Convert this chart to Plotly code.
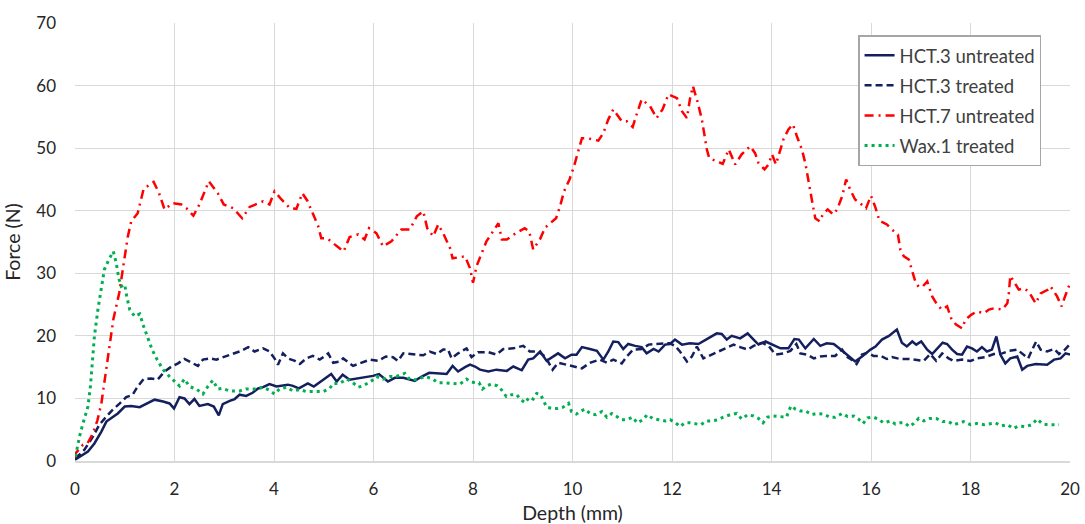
import plotly.graph_objects as go

# ---------------- data ----------------
hct3_untreated_depth = [0.00, 0.16, 0.26, 0.39, 0.53, 0.63, 0.76, 0.86, 1.00, 1.13, 1.30, 1.43, 1.60, 1.77, 1.90, 1.99,
    2.10, 2.20, 2.30, 2.40, 2.50, 2.67, 2.79, 2.89, 2.97, 3.11, 3.21, 3.31, 3.44, 3.57, 3.68, 3.78, 3.91, 4.05,
    4.28, 4.38, 4.50, 4.68, 4.80, 4.99, 5.15, 5.26, 5.38, 5.52, 5.69, 5.86, 5.99, 6.11, 6.29, 6.43, 6.60, 6.83,
    6.97, 7.12, 7.27, 7.47, 7.59, 7.70, 7.84, 7.94, 8.04, 8.14, 8.31, 8.47, 8.68, 8.81, 8.98, 9.11, 9.21, 9.35,
    9.48, 9.71, 9.85, 9.98, 10.08, 10.19, 10.35, 10.49, 10.62, 10.72, 10.82, 10.92, 11.02, 11.12, 11.26, 11.39,
    11.49, 11.63, 11.73, 11.86, 11.96, 12.06, 12.20, 12.36, 12.53, 12.67, 12.77, 12.90, 13.00, 13.10, 13.20,
    13.37, 13.52, 13.64, 13.74, 13.88, 14.01, 14.18, 14.34, 14.46, 14.55, 14.68, 14.85, 14.98, 15.11, 15.25,
    15.38, 15.51, 15.68, 15.82, 15.89, 15.99, 16.09, 16.22, 16.36, 16.52, 16.62, 16.72, 16.83, 16.91, 17.01,
    17.13, 17.23, 17.33, 17.44, 17.53, 17.63, 17.73, 17.83, 17.93, 18.03, 18.13, 18.23, 18.33, 18.43, 18.52,
    18.60, 18.70, 18.80, 18.94, 19.04, 19.14, 19.31, 19.54, 19.68, 19.81, 19.91, 20.00]
hct3_untreated_force = [0.2, 1.0, 1.5, 2.8, 4.7, 6.3, 7.1, 7.6, 8.7, 8.8, 8.6, 9.1, 9.8, 9.5, 9.2, 8.4,
    10.2, 10.0, 9.1, 9.9, 8.8, 9.1, 8.7, 7.3, 9.1, 9.6, 9.9, 10.6, 10.4, 10.9, 11.6, 11.8, 12.3, 11.9,
    12.2, 12.0, 11.6, 12.4, 11.9, 13.0, 13.9, 12.7, 13.8, 13.0, 13.2, 13.5, 13.6, 13.9, 12.7, 13.3, 13.3, 12.8,
    13.5, 14.1, 14.0, 13.9, 15.2, 14.3, 15.0, 15.4, 15.1, 14.6, 14.3, 14.6, 14.4, 15.1, 14.5, 16.2, 16.4, 17.5,
    16.0, 17.2, 16.4, 17.0, 17.0, 18.2, 17.9, 17.6, 16.2, 17.5, 19.1, 19.0, 17.9, 18.7, 18.4, 18.2,
    17.2, 17.9, 17.5, 18.6, 18.7, 19.4, 18.6, 18.8, 18.7, 19.4, 19.8, 20.4, 20.3, 19.4, 20.0,
    19.6, 20.4, 19.4, 18.6, 19.1, 18.6, 18.0, 18.0, 19.5, 19.4, 18.0, 19.5, 18.4, 18.8, 18.7,
    17.9, 17.0, 15.9, 16.7, 17.2, 17.8, 18.3, 19.4, 20.0, 21.0, 18.9, 18.3, 19.1, 18.6, 19.1,
    17.8, 17.1, 18.0, 18.9, 18.7, 17.8, 17.1, 17.0, 18.3, 18.0, 17.5, 18.2, 17.5, 17.8, 19.9,
    17.0, 15.6, 16.4, 16.7, 14.6, 15.2, 15.5, 15.4, 16.2, 16.4, 17.2, 17.0]

hct3_treated_depth = [0.01, 0.19, 0.36, 0.49, 0.63, 0.76, 0.90, 1.03, 1.16, 1.26, 1.38, 1.53, 1.66, 1.80, 1.94,
    2.07, 2.20, 2.34, 2.47, 2.57, 2.71, 2.84, 3.04, 3.21, 3.34, 3.48, 3.61, 3.78, 3.91, 4.01, 4.08, 4.18, 4.28,
    4.42, 4.52, 4.65, 4.78, 4.92, 5.09, 5.19, 5.32, 5.39, 5.59, 5.72, 5.93, 6.09, 6.25, 6.39, 6.49, 6.60, 6.80,
    7.00, 7.13, 7.27, 7.40, 7.50, 7.57, 7.70, 7.87, 7.97, 8.10, 8.31, 8.47, 8.61, 8.81, 9.01, 9.14, 9.31, 9.45,
    9.55, 9.60, 9.71, 9.88, 10.02, 10.19, 10.35, 10.55, 10.69, 10.82, 10.99, 11.09, 11.22, 11.39, 11.53, 11.66,
    11.83, 11.96, 12.06, 12.16, 12.30, 12.40, 12.50, 12.63, 12.80, 12.93, 13.07, 13.24, 13.37, 13.52, 13.64,
    13.81, 13.94, 14.08, 14.24, 14.38, 14.50, 14.58, 14.71, 14.85, 14.98, 15.11, 15.28, 15.42, 15.51, 15.61,
    15.71, 15.82, 15.92, 16.05, 16.19, 16.32, 16.42, 16.59, 16.76, 16.89, 17.06, 17.19, 17.31, 17.43, 17.56,
    17.66, 17.83, 18.00, 18.13, 18.30, 18.47, 18.64, 18.77, 18.94, 19.04, 19.16, 19.24, 19.32, 19.41, 19.54,
    19.68, 19.78, 19.90, 19.99]
hct3_treated_force = [0.4, 1.8, 3.9, 5.8, 7.1, 8.2, 9.2, 10.2, 10.6, 11.9, 13.1, 13.2, 13.0, 14.3, 15.1,
    15.6, 16.3, 15.7, 15.2, 16.2, 16.4, 16.2, 16.8, 17.2, 17.6, 18.2, 17.5, 18.0, 17.5, 16.4, 15.4, 17.2, 16.4,
    16.0, 15.5, 16.4, 16.8, 16.2, 17.2, 15.7, 15.9, 16.4, 15.2, 15.6, 16.2, 16.0, 16.7, 16.6, 16.0, 17.2, 17.0,
    16.9, 17.5, 17.1, 17.8, 17.8, 16.4, 17.2, 18.0, 16.6, 17.4, 17.4, 17.0, 17.9, 18.0, 18.4, 17.5, 17.5, 16.7,
    15.4, 14.6, 15.7, 15.4, 15.2, 14.8, 15.7, 16.2, 15.7, 16.2, 15.6, 16.7, 17.8, 17.9, 18.6, 18.7,
    18.8, 18.8, 18.4, 17.5, 15.9, 16.7, 18.3, 16.4, 17.0, 17.5, 18.0, 18.6, 18.2, 17.8, 18.4,
    18.9, 18.4, 17.0, 17.2, 17.6, 18.7, 17.2, 17.0, 16.4, 16.7, 16.8, 16.8, 17.8, 16.7, 16.2,
    15.5, 17.0, 17.3, 16.8, 16.8, 16.3, 16.6, 16.3, 16.3, 16.2, 16.0, 17.1, 16.0, 17.2, 16.4,
    16.0, 16.2, 16.0, 16.4, 16.6, 17.1, 17.2, 17.6, 17.8, 17.2, 16.4, 17.8, 19.1, 17.8, 17.5,
    17.9, 17.1, 17.8, 18.6]

hct7_untreated_depth = [0.00, 0.02, 0.16, 0.25, 0.36, 0.45, 0.53, 0.61, 0.69, 0.77, 0.89, 0.98, 1.06, 1.13, 1.26,
    1.38, 1.58, 1.69, 1.80, 1.96, 2.14, 2.24, 2.38, 2.50, 2.69, 2.87, 2.99, 3.18, 3.36, 3.51, 3.78, 3.91, 4.01,
    4.15, 4.32, 4.45, 4.57, 4.67, 4.78, 4.89, 4.95, 5.07, 5.19, 5.40, 5.52, 5.69, 5.82, 5.91, 6.06, 6.19, 6.36,
    6.56, 6.73, 6.87, 7.00, 7.08, 7.20, 7.30, 7.40, 7.54, 7.59, 7.84, 7.94, 8.00, 8.07, 8.17, 8.27, 8.42, 8.51,
    8.58, 8.68, 8.86, 9.04, 9.13, 9.21, 9.35, 9.45, 9.67, 9.75, 9.83, 9.94, 10.03, 10.12, 10.19, 10.29, 10.39,
    10.52, 10.62, 10.72, 10.82, 10.99, 11.09, 11.21, 11.29, 11.39, 11.56, 11.69, 11.81, 11.93, 12.10, 12.20,
    12.30, 12.36, 12.42, 12.51, 12.60, 12.63, 12.70, 12.75, 12.90, 13.02, 13.14, 13.27, 13.40, 13.57, 13.67,
    13.74, 13.86, 13.94, 14.01, 14.09, 14.18, 14.24, 14.34, 14.43, 14.51, 14.61, 14.68, 14.76, 14.81, 14.88,
    14.97, 15.03, 15.13, 15.24, 15.32, 15.42, 15.50, 15.58, 15.68, 15.78, 15.90, 16.00, 16.09, 16.17, 16.32,
    16.42, 16.54, 16.59, 16.66, 16.76, 16.83, 16.89, 16.96, 17.04, 17.13, 17.23, 17.33, 17.42, 17.53, 17.62,
    17.71, 17.83, 17.90, 18.02, 18.13, 18.27, 18.37, 18.47, 18.64, 18.74, 18.77, 18.80, 18.87, 18.97, 19.07,
    19.17, 19.31, 19.41, 19.56, 19.61, 19.74, 19.83, 19.90, 19.98, 20.00]
hct7_untreated_force = [0.5, 1.3, 2.6, 2.8, 4.4, 6.5, 9.2, 13.5, 18.0, 22.6, 26.9, 31.4, 35.8, 38.3, 39.6,
    43.5, 44.6, 42.8, 40.2, 41.2, 41.0, 40.4, 39.2, 41.0, 44.7, 42.8, 41.0, 40.4, 38.8, 40.6, 41.5, 41.0, 43.1,
    41.8, 40.4, 40.3, 42.8, 41.6, 39.4, 37.5, 35.6, 35.6, 34.8, 33.5, 35.8, 36.2, 35.4, 37.2, 36.4, 34.3, 35.1,
    37.0, 37.0, 39.1, 39.9, 37.2, 35.9, 37.8, 36.4, 34.0, 32.4, 32.7, 30.8, 28.5, 31.1, 33.0, 35.1, 36.9, 38.0,
    35.4, 35.4, 36.4, 37.2, 36.7, 33.8, 35.5, 37.3, 38.8, 40.7, 43.1, 45.0, 47.1, 49.8, 51.6, 51.6, 51.4,
    51.2, 52.4, 54.6, 56.2, 54.3, 54.3, 53.4, 55.4, 57.8, 56.7, 54.8, 56.2, 58.6, 58.0, 55.9,
    54.8, 57.8, 59.9, 57.5, 54.6, 53.0, 49.8, 48.4, 47.9, 47.5, 49.8, 47.4, 49.0, 50.3, 49.2,
    47.6, 46.6, 47.4, 49.0, 47.4, 49.8, 51.4, 53.0, 53.8, 51.9, 49.8, 47.6, 44.4, 41.8, 38.8,
    38.3, 39.4, 40.2, 39.4, 40.2, 42.3, 45.0, 43.4, 41.8, 41.2, 40.4, 42.4, 40.5, 38.4, 37.8,
    37.0, 36.2, 33.8, 32.7, 32.2, 30.1, 28.7, 27.8, 27.9, 28.7, 26.3, 25.0, 24.2, 24.7, 22.6,
    21.8, 21.2, 22.6, 23.4, 23.9, 23.6, 24.2, 24.4, 24.2, 25.2, 26.8, 29.6, 28.7, 27.4, 27.6,
    27.1, 25.2, 26.8, 27.4, 27.9, 26.3, 24.7, 26.3, 28.2, 28.4]

wax1_treated_depth = [0.01, 0.09, 0.16, 0.26, 0.31, 0.35, 0.39, 0.46, 0.53, 0.59, 0.68, 0.77, 0.83, 0.88, 0.93,
    1.00, 1.04, 1.10, 1.20, 1.30, 1.38, 1.47, 1.55, 1.65, 1.77, 1.90, 2.00, 2.10, 2.20, 2.30, 2.44, 2.57, 2.67,
    2.77, 2.87, 2.97, 3.11, 3.31, 3.44, 3.65, 3.78, 3.91, 4.01, 4.11, 4.25, 4.38, 4.52, 4.65, 4.78, 4.99, 5.12,
    5.19, 5.32, 5.46, 5.59, 5.69, 5.79, 5.96, 6.06, 6.19, 6.33, 6.46, 6.63, 6.73, 6.87, 7.03, 7.17, 7.30, 7.44,
    7.57, 7.74, 7.87, 7.97, 8.12, 8.19, 8.27, 8.37, 8.49, 8.58, 8.67, 8.78, 8.88, 8.96, 9.05, 9.13, 9.21, 9.28,
    9.36, 9.41, 9.48, 9.58, 9.69, 9.81, 9.92, 9.98, 10.08, 10.15, 10.25, 10.35, 10.47, 10.59, 10.69, 10.79,
    10.88, 10.99, 11.09, 11.21, 11.30, 11.42, 11.50, 11.61, 11.73, 11.86, 11.96, 12.06, 12.16, 12.26, 12.36,
    12.46, 12.58, 12.69, 12.80, 12.93, 13.03, 13.17, 13.30, 13.40, 13.52, 13.64, 13.74, 13.83, 13.92, 14.04,
    14.18, 14.30, 14.39, 14.48, 14.58, 14.68, 14.81, 14.91, 15.05, 15.17, 15.28, 15.42, 15.53, 15.65, 15.75,
    15.84, 15.93, 16.05, 16.15, 16.25, 16.39, 16.49, 16.59, 16.68, 16.77, 16.86, 16.96, 17.06, 17.18, 17.31,
    17.44, 17.56, 17.66, 17.76, 17.86, 18.00, 18.13, 18.27, 18.38, 18.50, 18.62, 18.74, 18.86, 18.97, 19.11,
    19.23, 19.34, 19.45, 19.56, 19.68, 19.78]
wax1_treated_force = [0.7, 3.9, 6.0, 8.7, 11.9, 15.6, 19.9, 24.2, 27.4, 30.6, 32.2, 33.5, 31.6, 29.2, 27.9,
    28.2, 26.3, 24.2, 23.1, 23.5, 21.5, 19.6, 17.8, 16.2, 14.6, 13.5, 12.7, 12.0, 13.1, 11.9, 11.5, 10.7, 11.9,
    12.9, 11.5, 11.6, 11.2, 11.2, 11.5, 11.5, 11.8, 11.3, 10.7, 11.5, 11.8, 11.2, 11.4, 11.1, 11.1, 11.1, 11.6,
    12.4, 12.4, 13.1, 12.5, 11.8, 12.0, 12.8, 13.5, 13.1, 13.5, 13.5, 14.0, 13.0, 13.0, 13.5, 13.2, 12.5, 12.5,
    12.4, 12.3, 13.1, 12.6, 12.5, 11.5, 12.0, 12.3, 12.0, 11.3, 10.3, 10.6, 10.6, 9.8, 9.3, 10.2, 9.9, 10.8,
    10.6, 9.8, 8.6, 8.4, 8.4, 8.6, 9.2, 7.9, 7.5, 7.9, 8.3, 7.6, 7.4, 7.9, 7.0, 7.6,
    7.1, 6.6, 6.6, 7.0, 6.1, 6.6, 7.4, 6.8, 6.6, 6.4, 6.6, 6.2, 5.5, 6.1, 6.1,
    6.0, 5.8, 6.4, 6.4, 6.6, 7.0, 7.4, 7.6, 6.7, 7.4, 7.2, 6.8, 6.1, 7.0, 7.2,
    7.1, 7.0, 8.8, 8.3, 8.0, 8.0, 7.4, 7.6, 7.5, 7.0, 7.0, 7.6, 7.1, 7.2, 6.7,
    6.0, 6.9, 7.0, 6.7, 6.1, 6.4, 5.9, 6.1, 6.1, 5.5, 6.0, 6.8, 6.4, 6.8, 6.8,
    6.3, 6.3, 5.8, 6.0, 6.3, 5.8, 6.0, 5.8, 5.9, 6.1, 5.6, 5.8, 5.2, 5.6, 5.5,
    5.8, 6.7, 5.9, 5.8, 5.8, 5.8]

series_names = ["HCT.3 untreated", "HCT.3 treated", "HCT.7 untreated", "Wax.1 treated"]
x_ticks = [0, 2, 4, 6, 8, 10, 12, 14, 16, 18, 20]
y_ticks = [0, 10, 20, 30, 40, 50, 60, 70]

# ---------------- styling ----------------
NAVY = "#14205e"
RED = "#ff0000"
GREEN = "#00b050"
FONT = "Lato, 'Open Sans', sans-serif"

fig = go.Figure()
fig.add_trace(go.Scatter(x=hct3_untreated_depth, y=hct3_untreated_force, mode="lines",
                         name=series_names[0], legendgroup="a",
                         line=dict(color=NAVY, width=2.5)))
fig.add_trace(go.Scatter(x=hct3_treated_depth, y=hct3_treated_force, mode="lines",
                         name=series_names[1], legendgroup="b",
                         line=dict(color=NAVY, width=2.5, dash="7px,4px")))
fig.add_trace(go.Scatter(x=hct7_untreated_depth, y=hct7_untreated_force, mode="lines",
                         name=series_names[2], legendgroup="c",
                         line=dict(color=RED, width=2.5, dash="9px,5px,2px,5px")))
fig.add_trace(go.Scatter(x=wax1_treated_depth, y=wax1_treated_force, mode="lines",
                         name=series_names[3], legendgroup="d",
                         line=dict(color=GREEN, width=3, dash="3px,4px")))

fig.update_layout(
    width=1085, height=524,
    margin=dict(l=75, r=15, t=23, b=63),
    paper_bgcolor="white", plot_bgcolor="white",
    font=dict(family=FONT, size=17, color="#262626"),
    showlegend=True,
    legend=dict(x=0.787, y=0.972, xanchor="left", yanchor="top",
                bgcolor="white", bordercolor="#a6a6a6", borderwidth=1.5,
                font=dict(family=FONT, size=18.5, color="#404040"),
                tracegroupgap=3, traceorder="grouped", itemwidth=30),
    xaxis=dict(range=[0, 20], tickvals=x_ticks, ticktext=[str(v) for v in x_ticks],
               showgrid=True, gridcolor="#d9d9d9", gridwidth=1, zeroline=False,
               showline=True, linecolor="#d9d9d9", linewidth=1.5,
               ticks="", ticklabelstandoff=12, automargin=False,
               title=dict(text="Depth (mm)", standoff=10, font=dict(size=19.5, color="#262626"))),
    yaxis=dict(range=[0, 70], tickvals=y_ticks, ticktext=[str(v) for v in y_ticks],
               showgrid=True, gridcolor="#d9d9d9", gridwidth=1, zeroline=False,
               showline=False, ticks="", ticklabelstandoff=18, automargin=False,
               title=dict(text="Force (N)", standoff=10, font=dict(size=19.5, color="#262626"))),
)

fig.write_html("out.html", config={"displayModeBar": False},
               post_script="document.body.style.margin='0px';")
